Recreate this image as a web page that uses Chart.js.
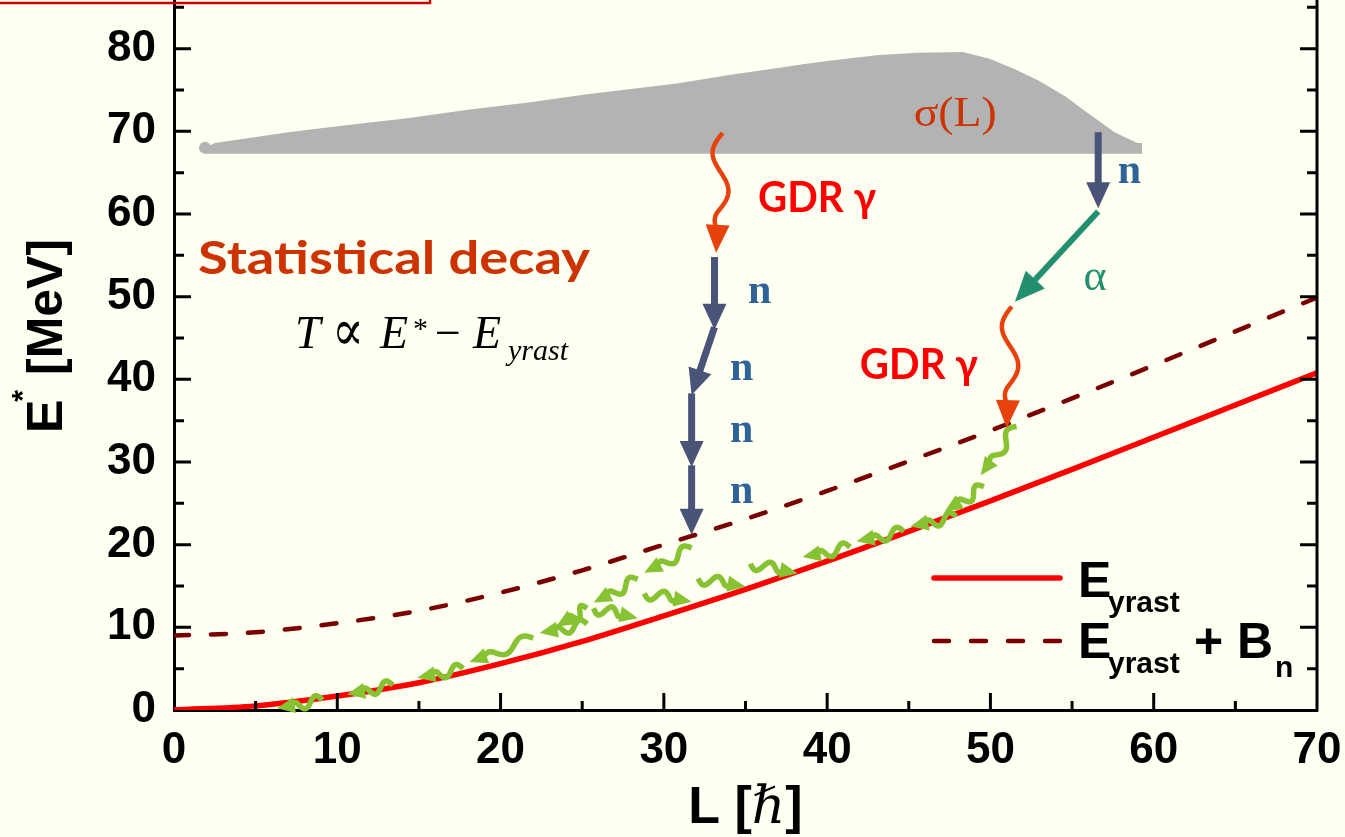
<!DOCTYPE html>
<html>
<head>
<meta charset="utf-8">
<script src="https://cdn.jsdelivr.net/npm/chart.js@4.4.1/dist/chart.umd.min.js"></script>
<style>
  html, body { margin: 0; padding: 0; width: 1345px; height: 837px; overflow: hidden; background: #FFFFF2; }
  #wrap { position: absolute; left: 0; top: -80px; width: 1345px; height: 917px; }
</style>
</head>
<body>
<div id="wrap"><canvas id="c" width="1345" height="917"></canvas></div>
<script>
// ---- data (L in units of hbar, E* in MeV) ----
const spinL      = [0, 5, 10, 15, 20, 25, 30, 35, 40, 45, 50, 55, 60, 65, 70];
const yrastE     = [0, 0.5, 1.7, 3.3, 5.6, 8.3, 11.4, 14.6, 18.0, 21.6, 25.3, 29.1, 33.0, 36.9, 40.8];
const yrastBnE   = [9.0, 9.4, 10.5, 12.0, 14.2, 16.9, 20.0, 23.1, 26.5, 30.1, 33.8, 37.7, 41.7, 45.8, 49.9];

// sigma(L): upper edge of the entry-population band, and its floor
const sigmaL     = [1.9, 2.5, 4.6, 7.0, 10.0, 14.4, 18.0, 21.7, 25.3, 30.8, 34.0, 37.5, 38.5, 40.0, 43.0, 45.5, 48.3, 49.9, 51.5, 53.0, 54.6, 55.9, 57.6, 59.0, 59.3];
const sigmaTop   = [68.0, 68.6, 69.2, 69.9, 70.6, 71.6, 72.6, 73.5, 74.5, 75.8, 76.8, 77.8, 78.1, 78.5, 79.2, 79.5, 79.6, 78.8, 77.5, 76.1, 74.2, 72.3, 69.9, 68.6, 68.6];
const sigmaFloor = 67.3;

const xTickValues = [0, 10, 20, 30, 40, 50, 60, 70];
const yTickValues = [0, 10, 20, 30, 40, 50, 60, 70, 80];

// decay steps: [L_from, E_from, L_to, E_to]
const gdrGamma = [
  [33.6, 69.8, 33.2, 55.3],
  [51.3, 48.8, 51.0, 34.1]
];
const neutronSteps = [
  [33.1, 54.8, 33.1, 46.0],
  [33.1, 46.3, 31.7, 38.1],
  [31.7, 38.3, 31.7, 29.4],
  [31.7, 29.6, 31.7, 21.2],
  [56.6, 69.9, 56.6, 60.7]
];
const alphaSteps = [
  [56.6, 60.3, 51.5, 49.4]
];
const yrastGammas = [
  [9.1, 1.2, 6.3, 0.2],
  [13.4, 3.0, 10.6, 1.9],
  [17.7, 5.0, 14.9, 3.9],
  [22.0, 8.7, 18.1, 5.8],
  [25.3, 10.4, 22.4, 9.3],
  [25.3, 12.3, 23.4, 10.1],
  [28.4, 15.8, 25.7, 13.0],
  [31.7, 19.6, 28.8, 16.6],
  [25.7, 12.3, 28.4, 11.1],
  [28.8, 14.1, 31.7, 13.1],
  [32.1, 15.9, 35.0, 14.9],
  [35.3, 17.7, 38.2, 16.5],
  [41.4, 19.7, 38.5, 18.5],
  [44.7, 21.6, 41.8, 20.4],
  [47.9, 23.4, 45.1, 22.2],
  [49.6, 27.0, 47.2, 24.0],
  [51.6, 34.3, 49.4, 28.4]
];

// text anchors in data coordinates (left edge, baseline)
const nLabelAt     = [[35.15, 49.2], [34.05, 39.9], [34.05, 32.4], [34.05, 25.0], [57.8, 63.7]];
const gdrLabelAt   = [[35.76, 60.2], [42.0, 40.1]];
const statDecayAt  = [1.47, 52.8];
const formulaAt    = [7.41, 43.77];
const sigmaLabelAt = [45.3, 70.7];
const alphaLabelAt = [55.7, 50.8];

// ---- drawing helpers ----
const OFFSET = 80;           // canvas is shifted up by this many pixels
const SANS = '"Liberation Sans", Arial, sans-serif';
const SERIF = '"Liberation Serif", "DejaVu Serif", serif';
const HAND = '"Comic Sans MS", Lato, "Noto Sans", sans-serif';

function pt(chart, L, E) {
  return [chart.scales.x.getPixelForValue(L), chart.scales.y.getPixelForValue(E)];
}

function head(ctx, tx, ty, ang, len, wid, color) {
  ctx.save();
  ctx.translate(tx, ty);
  ctx.rotate(ang);
  ctx.beginPath();
  ctx.moveTo(0, 0);
  ctx.lineTo(-len, wid / 2);
  ctx.lineTo(-len, -wid / 2);
  ctx.closePath();
  ctx.fillStyle = color;
  ctx.fill();
  ctx.restore();
}

function straightArrow(ctx, p0, p1, st) {
  const ang = Math.atan2(p1[1] - p0[1], p1[0] - p0[0]);
  const bx = p1[0] - Math.cos(ang) * st.headLen * 0.8;
  const by = p1[1] - Math.sin(ang) * st.headLen * 0.8;
  ctx.save();
  ctx.strokeStyle = st.color;
  ctx.lineWidth = st.width;
  ctx.beginPath();
  ctx.moveTo(p0[0], p0[1]);
  ctx.lineTo(bx, by);
  ctx.stroke();
  head(ctx, p1[0], p1[1], ang, st.headLen, st.headWid, st.color);
  ctx.restore();
}

function wavyArrow(ctx, p0, p1, st) {
  const dx = p1[0] - p0[0], dy = p1[1] - p0[1];
  const d = Math.hypot(dx, dy);
  const ux = dx / d, uy = dy / d, nx = -uy, ny = ux;
  const body = d - st.headLen * 0.8;
  const ang = Math.atan2(dy, dx);
  ctx.save();
  ctx.strokeStyle = st.color;
  ctx.lineWidth = st.width;
  ctx.lineJoin = 'round';
  ctx.beginPath();
  const N = 80;
  for (let i = 0; i <= N; i++) {
    const t = i / N;
    const s = t * body;
    const env = Math.min(1, (1 - t) * 5);
    const o = st.amp * Math.sin(2 * Math.PI * st.periods * t) * env;
    const x = p0[0] + ux * s + nx * o;
    const y = p0[1] + uy * s + ny * o;
    if (i === 0) ctx.moveTo(x, y); else ctx.lineTo(x, y);
  }
  ctx.stroke();
  head(ctx, p1[0], p1[1], ang, st.headLen, st.headWid, st.color);
  ctx.restore();
}

function fitText(ctx, text, x, y, width) {
  const w = ctx.measureText(text).width;
  ctx.save();
  ctx.translate(x, y);
  ctx.scale(width / w, 1);
  ctx.fillText(text, 0, 0);
  ctx.restore();
}

const decor = {
  id: 'decor',
  beforeDraw(chart) {
    const ctx = chart.ctx;
    ctx.save();
    ctx.fillStyle = '#FFFFF2';
    ctx.fillRect(0, 0, chart.width, chart.height);
    ctx.restore();
  },
  afterDatasetsDraw(chart) {
    const ctx = chart.ctx;
    ctx.save();
    ctx.textBaseline = 'alphabetic';
    ctx.textAlign = 'left';

    // cascade of statistical gammas towards the yrast line
    yrastGammas.forEach(s => {
      wavyArrow(ctx, pt(chart, s[0], s[1]), pt(chart, s[2], s[3]),
        { color: '#86C232', width: 5.5, amp: 5.5, periods: 1.3, headLen: 18, headWid: 16 });
    });
    // GDR gammas
    gdrGamma.forEach(s => {
      wavyArrow(ctx, pt(chart, s[0], s[1]), pt(chart, s[2], s[3]),
        { color: '#E8420C', width: 4.5, amp: 9, periods: 1.25, headLen: 28, headWid: 24 });
    });
    // neutron evaporation
    neutronSteps.forEach(s => {
      straightArrow(ctx, pt(chart, s[0], s[1]), pt(chart, s[2], s[3]),
        { color: '#4A5479', width: 7, headLen: 26, headWid: 24 });
    });
    // alpha emission
    alphaSteps.forEach(s => {
      straightArrow(ctx, pt(chart, s[0], s[1]), pt(chart, s[2], s[3]),
        { color: '#22906F', width: 6, headLen: 30, headWid: 26 });
    });

    // labels
    ctx.fillStyle = '#2E6399';
    ctx.font = 'bold 42px ' + SERIF;
    nLabelAt.forEach(a => { const p = pt(chart, a[0], a[1]); ctx.fillText('n', p[0], p[1]); });

    ctx.fillStyle = '#FF0000';
    ctx.font = 'bold 42px ' + HAND;
    gdrLabelAt.forEach(a => { const p = pt(chart, a[0], a[1]); fitText(ctx, 'GDR γ', p[0], p[1], 118); });

    ctx.fillStyle = '#CC3300';
    ctx.font = 'bold 46px ' + HAND;
    let p = pt(chart, statDecayAt[0], statDecayAt[1]);
    fitText(ctx, 'Statistical decay', p[0], p[1], 392);

    ctx.fillStyle = '#CC3300';
    ctx.font = '42px ' + SERIF;
    p = pt(chart, sigmaLabelAt[0], sigmaLabelAt[1]);
    fitText(ctx, 'σ(L)', p[0], p[1], 83);

    ctx.fillStyle = '#22906F';
    ctx.font = '44px ' + SERIF;
    p = pt(chart, alphaLabelAt[0], alphaLabelAt[1]);
    ctx.fillText('α', p[0], p[1]);

    // T ∝ E* − E_yrast
    p = pt(chart, formulaAt[0], formulaAt[1]);
    const ox = p[0], oy = p[1];
    ctx.fillStyle = '#000';
    ctx.font = 'italic 46px ' + SERIF;
    ctx.fillText('T', ox, oy);
    ctx.font = '58px "DejaVu Serif", serif';
    fitText(ctx, '∝', ox + 37, oy + 2, 32);
    ctx.font = 'italic 46px ' + SERIF;
    ctx.fillText('E', ox + 85, oy);
    ctx.font = '30px ' + SERIF;
    ctx.fillText('*', ox + 118, oy - 10);
    ctx.font = '46px ' + SERIF;
    ctx.fillText('−', ox + 140, oy);
    ctx.font = 'italic 46px ' + SERIF;
    ctx.fillText('E', ox + 178, oy);
    ctx.font = 'italic 30px ' + SERIF;
    ctx.fillText('yrast', ox + 213, oy + 12);
    ctx.restore();
  },
  afterDraw(chart) {
    const ctx = chart.ctx;
    const ca = chart.chartArea;
    const xs = chart.scales.x, ys = chart.scales.y;
    ctx.save();

    // right frame line and inward tick marks
    ctx.strokeStyle = '#000';
    ctx.lineWidth = 3;
    ctx.beginPath();
    ctx.moveTo(ca.right, ca.top);
    ctx.lineTo(ca.right, ca.bottom + 1.5);
    ctx.stroke();
    ctx.beginPath();
    for (let v = 5; v < xs.max; v += 5) {
      const x = xs.getPixelForValue(v);
      const len = v % 10 === 0 ? 17 : 9;
      ctx.moveTo(x, ca.bottom);
      ctx.lineTo(x, ca.bottom - len);
    }
    for (let v = 5; v < ys.max; v += 5) {
      const y = ys.getPixelForValue(v);
      const len = v % 10 === 0 ? 17 : 10;
      ctx.moveTo(ca.left, y);
      ctx.lineTo(ca.left + len, y);
      ctx.moveTo(ca.right, y);
      ctx.lineTo(ca.right - len, y);
    }
    ctx.stroke();

    // legend
    const ds = chart.data.datasets;
    ctx.lineCap = 'round';
    ctx.strokeStyle = ds[1].borderColor;
    ctx.lineWidth = ds[1].borderWidth;
    ctx.beginPath();
    ctx.moveTo(934, 578 + OFFSET);
    ctx.lineTo(1060, 578 + OFFSET);
    ctx.stroke();
    ctx.strokeStyle = ds[2].borderColor;
    ctx.lineWidth = ds[2].borderWidth;
    ctx.setLineDash(ds[2].borderDash);
    ctx.beginPath();
    ctx.moveTo(934, 641 + OFFSET);
    ctx.lineTo(1062, 641 + OFFSET);
    ctx.stroke();
    ctx.setLineDash([]);

    ctx.fillStyle = '#000';
    ctx.textAlign = 'left';
    ctx.textBaseline = 'alphabetic';
    ctx.font = 'bold 50px ' + SANS;
    ctx.fillText('E', 1078, 597 + OFFSET);
    ctx.fillText('E', 1078, 658 + OFFSET);
    ctx.fillText('+ B', 1194, 658 + OFFSET);
    ctx.font = 'bold 30px ' + SANS;
    ctx.fillText('yrast', 1108, 612 + OFFSET);
    ctx.fillText('yrast', 1108, 673 + OFFSET);
    ctx.fillText('n', 1275, 677 + OFFSET);

    // x-axis title: L [ħ]
    const parts = [
      ['L [', 'bold 52px ' + SANS],
      ['ℏ', 'italic 52px ' + SERIF],
      [']', 'bold 52px ' + SANS]
    ];
    let total = 0;
    parts.forEach(q => { ctx.font = q[1]; total += ctx.measureText(q[0]).width; });
    let x = (ca.left + ca.right) / 2 - total / 2;
    parts.forEach(q => { ctx.font = q[1]; ctx.fillText(q[0], x, 823 + OFFSET); x += ctx.measureText(q[0]).width; });

    // y-axis title: E* [MeV]
    ctx.save();
    ctx.translate(62, 433 + OFFSET);
    ctx.rotate(-Math.PI / 2);
    ctx.font = 'bold 50px ' + SANS;
    ctx.fillText('E', 0, 0);
    const we = ctx.measureText('E').width;
    ctx.font = 'bold 30px ' + SANS;
    ctx.fillText('*', we - 2, -30);
    ctx.font = 'bold 50px ' + SANS;
    ctx.fillText('[MeV]', 58, 0);
    ctx.restore();

    // framed caption box at the top edge
    ctx.strokeStyle = '#C80000';
    ctx.lineWidth = 2.5;
    ctx.strokeRect(-10, -60 + OFFSET, 440, 63);
    ctx.restore();
  }
};

const tickFont = { family: SANS, size: 44, weight: 'bold' };

new Chart(document.getElementById('c'), {
  type: 'line',
  data: {
    datasets: [
      {
        label: 'σ(L)',
        data: sigmaL.map((L, i) => ({ x: L, y: sigmaTop[i] })),
        fill: { value: sigmaFloor },
        backgroundColor: '#B3B3B3',
        borderColor: '#B3B3B3',
        borderWidth: 0,
        tension: 0,
        pointRadius: c => (c.dataIndex === 0 ? 6 : 0),
        pointBackgroundColor: '#B3B3B3',
        pointBorderWidth: 0,
        order: 3
      },
      {
        label: 'E_yrast',
        data: spinL.map((L, i) => ({ x: L, y: yrastE[i] })),
        borderColor: '#FF0000',
        borderWidth: 5.5,
        pointRadius: 0,
        cubicInterpolationMode: 'monotone',
        fill: false,
        order: 1
      },
      {
        label: 'E_yrast + B_n',
        data: spinL.map((L, i) => ({ x: L, y: yrastBnE[i] })),
        borderColor: '#7A0000',
        borderWidth: 4.5,
        borderDash: [15, 22],
        borderCapStyle: 'round',
        pointRadius: 0,
        cubicInterpolationMode: 'monotone',
        fill: false,
        order: 2
      }
    ]
  },
  options: {
    responsive: false,
    animation: false,
    events: [],
    layout: { padding: { top: 46, right: 28, left: 0, bottom: 0 } },
    plugins: { legend: { display: false }, tooltip: { enabled: false } },
    scales: {
      x: {
        type: 'linear', min: 0, max: 70,
        afterBuildTicks: s => { s.ticks = xTickValues.map(v => ({ value: v })); },
        afterFit: s => { s.height = 127; s.paddingLeft = 0; s.paddingRight = 0; },
        grid: { display: false, drawTicks: false },
        border: { display: true, color: '#000', width: 3 },
        ticks: { color: '#000', padding: 14, font: tickFont, autoSkip: false, maxRotation: 0 }
      },
      y: {
        type: 'linear', min: 0, max: 90,
        afterBuildTicks: s => { s.ticks = yTickValues.map(v => ({ value: v })); },
        afterFit: s => { s.width = 174; s.paddingTop = 0; s.paddingBottom = 0; },
        grid: { display: false, drawTicks: false },
        border: { display: true, color: '#000', width: 3 },
        ticks: { color: '#000', padding: 18, font: tickFont, autoSkip: false }
      }
    }
  },
  plugins: [decor]
});
</script>
</body>
</html>
